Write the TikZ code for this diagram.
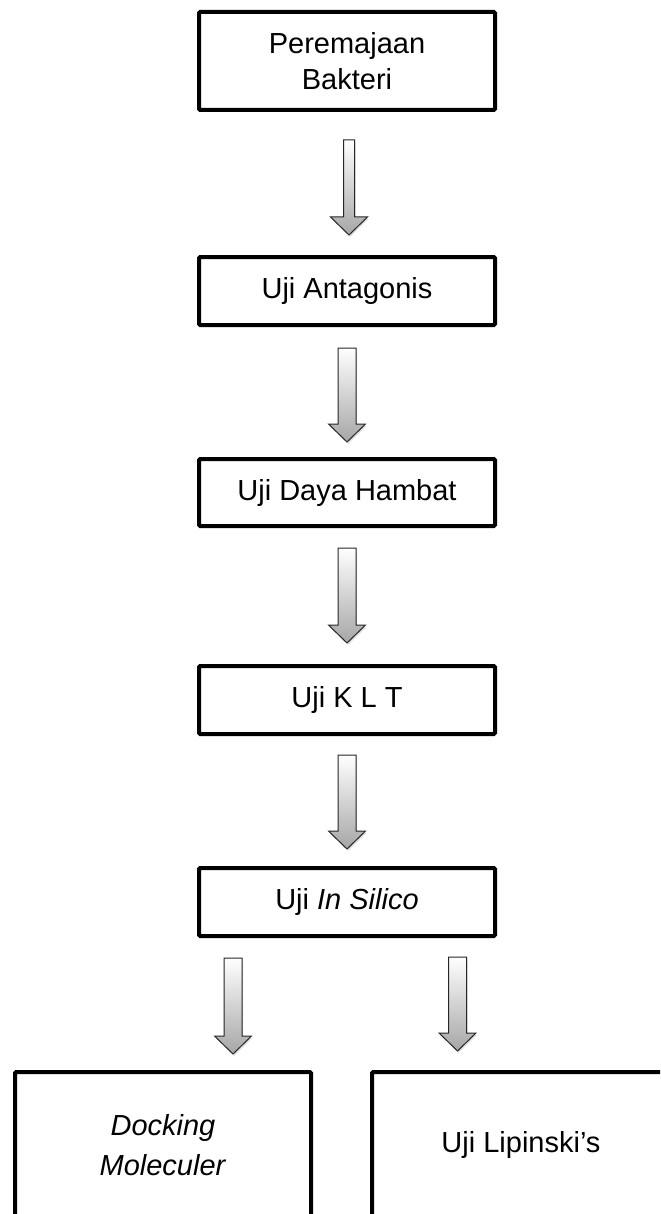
\documentclass[tikz,border=0pt]{standalone}
\usepackage{fontspec}
\setmainfont{Liberation Sans}
\usetikzlibrary{shadows}
\newcommand\blockarr[5]{% name, x, ytop, ytip, shaft half width
  \coordinate (#1-top) at (#2,#3);
  \coordinate (#1-tip) at (#2,#4);
  \path[arrowfill] (#2-#5,#3) -- (#2+#5,#3) -- (#2+#5,#4-18) -- (#2+18.5,#4-18)
    -- (#1-tip) -- (#2-18.5,#4-18) -- (#2-#5,#4-18) -- cycle;}
\begin{document}
\begin{tikzpicture}[x=0.5pt,y=-0.5pt,
  stepbox/.style={draw=black, line width=2pt, rounded corners=0.6pt, fill=white,
    inner sep=0pt, outer sep=0pt, align=center, font=\fontsize{14.5}{18}\selectfont},
  arrowfill/.style={draw=black!85, line width=0.5pt, line join=miter,
    top color=white, bottom color=black!35,
    drop shadow={opacity=0.25, shadow xshift=0.6pt, shadow yshift=-0.9pt}},
]
\useasboundingbox (0,0) rectangle (660,1214);
\clip (0,0) rectangle (660,1214);
% boxes
\node[stepbox, minimum width=148pt, minimum height=49pt] (b1) at (347,61) {Peremajaan\\Bakteri};
\node[stepbox, minimum width=148pt, minimum height=34pt] (b2) at (347,291) {Uji Antagonis};
\node[stepbox, minimum width=148pt, minimum height=33.5pt] (b3) at (347,492.5) {Uji Daya Hambat};
\node[stepbox, minimum width=148pt, minimum height=34pt] (b4) at (347,700) {Uji K L T};
\node[stepbox, minimum width=148pt, minimum height=34pt] (b5) at (347,902) {Uji \textit{In Silico}};
\node[stepbox, minimum width=148pt, minimum height=73pt] (b6) at (163,1145) {\textit{Docking}\\[2pt]\textit{Moleculer}};
\node[stepbox, minimum width=149pt, minimum height=73pt] (b7) at (521,1145) {Uji Lipinski’s};
% block arrows
\blockarr{a1}{349}{140}{235}{5.5}
\blockarr{a2}{347}{348}{442}{9}
\blockarr{a3}{347}{548}{643}{9}
\blockarr{a4}{347}{755}{849}{9}
\blockarr{a5}{233}{958}{1054}{9}
\blockarr{a6}{457.5}{957}{1051}{9}
\end{tikzpicture}
\end{document}
